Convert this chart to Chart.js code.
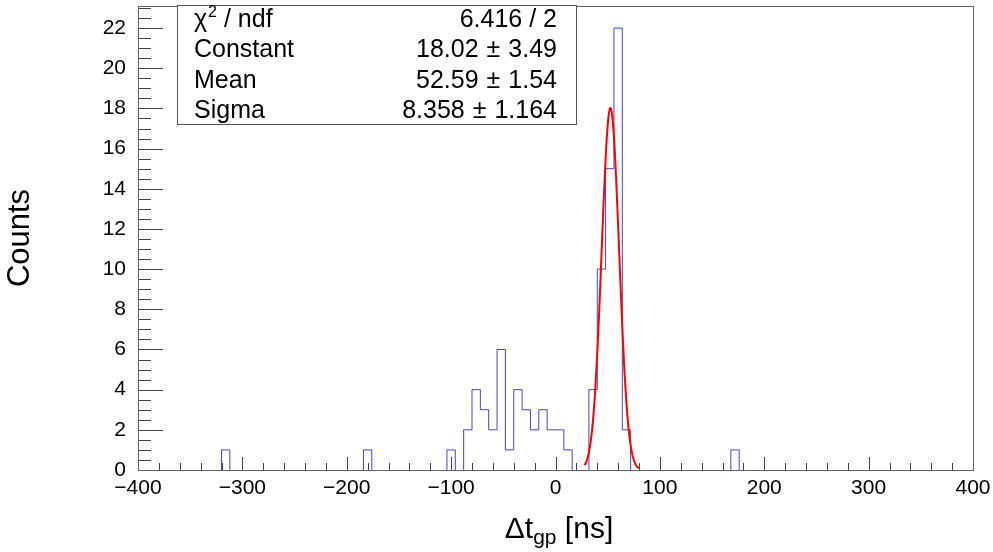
<!DOCTYPE html>
<html>
<head>
<meta charset="utf-8">
<script src="https://cdn.jsdelivr.net/npm/chart.js@4.4.1/dist/chart.umd.min.js"></script>
<style>
    html, body { margin: 0; padding: 0; background: #fff; }
</style>
</head>
<body>
<canvas id="histChart" width="993" height="552"></canvas>
<script>
// histogram: 8 ns bins between -400 and 400, only the filled bins are listed
const BIN_WIDTH = 8
const binLow = [-320, -184, -104, -88, -80, -72, -64, -56, -48, -40, -32, -24, -16, -8, 0, 8, 32, 40, 48, 56, 64, 168]
const binCount = [1, 1, 1, 2, 4, 3, 2, 6, 1, 4, 3, 2, 3, 2, 2, 1, 4, 10, 15, 22, 2, 1]

// red fit curve
const fitX = [28, 30, 32, 34, 36, 38, 40, 42, 44, 46, 48, 50, 52, 52.59, 54, 56, 58, 60, 62, 64, 66, 68, 70, 72, 74, 76, 78, 80]
const fitY = [0.24, 0.47, 0.87, 1.52, 2.51, 3.93, 5.80, 8.07, 10.63, 13.21, 15.50, 17.17, 17.98, 18.02, 17.77, 16.58, 14.62, 12.16, 9.56, 7.10, 4.97, 3.29, 2.06, 1.21, 0.68, 0.36, 0.18, 0.08]

// stats box
const statNames = ["χ", "Constant", "Mean", "Sigma"]
const statValues = ["6.416 / 2", "18.02", "52.59", "8.358"]
const statErrors = [null, "3.49", "1.54", "1.164"]

const FONT = '"Liberation Sans", Arial, Helvetica, sans-serif'

function histPoints() {
    let pts = []
    let i = 0
    while (i < binLow.length) {
        let j = i
        while (j + 1 < binLow.length && binLow[j + 1] === binLow[j] + BIN_WIDTH) j++
        pts.push({x: binLow[i], y: 0})
        for (let k = i; k <= j; k++) pts.push({x: binLow[k], y: binCount[k]})
        pts.push({x: binLow[j] + BIN_WIDTH, y: 0})
        pts.push({x: binLow[j] + BIN_WIDTH, y: null})
        i = j + 1
    }
    return pts
}

const rootFrame = {
    id: 'rootFrame',
    afterDatasetsDraw(chart) {
        const {ctx, chartArea: a, scales: {x, y}} = chart
        ctx.save()
        ctx.lineWidth = 1

        // ticks pointing into the frame
        ctx.strokeStyle = '#444'
        ctx.beginPath()
        for (let v = -400; v <= 400; v += 20) {
            const px = Math.round(x.getPixelForValue(v)) + 0.5
            const len = v % 100 === 0 ? 13 : 7
            ctx.moveTo(px, a.bottom)
            ctx.lineTo(px, a.bottom - len)
        }
        for (let v = 0; v <= 23; v += 0.5) {
            const py = Math.round(y.getPixelForValue(v)) + 0.5
            const len = v % 2 === 0 ? 25 : 13
            ctx.moveTo(a.left, py)
            ctx.lineTo(a.left + len, py)
        }
        ctx.stroke()

        ctx.strokeStyle = '#666'
        ctx.strokeRect(Math.round(a.left) + 0.5, Math.round(a.top) + 0.5,
            Math.round(a.right - a.left), Math.round(a.bottom - a.top))

        // stats box
        const bx = 177.5, by = 5.5, bw = 399, bh = 119
        ctx.fillStyle = '#fff'
        ctx.fillRect(bx, by, bw, bh)
        ctx.strokeStyle = '#555'
        ctx.strokeRect(bx, by, bw, bh)

        ctx.fillStyle = '#000'
        ctx.textBaseline = 'alphabetic'
        const big = '25px ' + FONT
        const small = '16px ' + FONT
        const right = 557
        const gap = 8
        statNames.forEach((name, i) => {
            const base = 27 + i * 30.4
            ctx.font = big
            ctx.textAlign = 'left'
            ctx.fillText(name, 194, base)
            if (i === 0) {
                let w = ctx.measureText(name).width
                ctx.font = small
                ctx.fillText('2', 194 + w + 1, base - 10)
                let w2 = ctx.measureText('2').width
                ctx.font = big
                ctx.fillText(' / ndf', 194 + w + 1 + w2, base)
            }
            ctx.font = big
            ctx.textAlign = 'right'
            if (statErrors[i] === null) {
                ctx.fillText(statValues[i], right, base)
            } else {
                ctx.fillText(statErrors[i], right, base)
                let xr = right - ctx.measureText(statErrors[i]).width - gap
                ctx.fillText('±', xr, base)
                xr -= ctx.measureText('±').width + gap
                ctx.fillText(statValues[i], xr, base)
            }
        })

        // x axis title with subscript
        const t1 = 'Δt', t2 = 'gp', t3 = ' [ns]'
        ctx.textAlign = 'left'
        ctx.font = '30px ' + FONT
        const w1 = ctx.measureText(t1).width, w3 = ctx.measureText(t3).width
        ctx.font = '21px ' + FONT
        const w2 = ctx.measureText(t2).width
        let tx = 559 - (w1 + w2 + w3) / 2
        const ty = 538
        ctx.font = '30px ' + FONT
        ctx.fillText(t1, tx, ty)
        ctx.font = '21px ' + FONT
        ctx.fillText(t2, tx + w1, ty + 6)
        ctx.font = '30px ' + FONT
        ctx.fillText(t3, tx + w1 + w2, ty)
        ctx.restore()
    }
}

const histChart = new Chart(document.getElementById("histChart"), {
    type: 'line',
    data: {
        datasets: [
            {
                label: 'fit',
                data: fitX.map((v, i) => ({x: v, y: fitY[i]})),
                borderColor: '#ff0000',
                borderWidth: 2,
                pointRadius: 0,
                cubicInterpolationMode: 'monotone',
                fill: false
            },
            {
                label: 'hist',
                data: histPoints(),
                borderColor: 'rgb(70, 70, 190)',
                borderWidth: 1,
                pointRadius: 0,
                stepped: 'before',
                spanGaps: false,
                fill: false
            }
        ]
    },
    options: {
        responsive: false,
        animation: false,
        layout: {
            padding: {top: 6, right: 20, left: 0, bottom: 0}
        },
        plugins: {
            legend: {display: false},
            tooltip: {enabled: false}
        },
        scales: {
            x: {
                type: 'linear',
                min: -400,
                max: 400,
                grid: {display: false, drawTicks: false},
                border: {display: false},
                ticks: {
                    stepSize: 100,
                    autoSkip: false,
                    maxRotation: 0,
                    padding: 6,
                    color: '#000',
                    font: {size: 21, family: FONT},
                    callback: v => String(v).replace('-', '−')
                },
                afterFit: s => {
                    s.height = 82
                    s.paddingLeft = 0
                    s.paddingRight = 0
                }
            },
            y: {
                type: 'linear',
                min: 0,
                max: 23.1,
                grid: {display: false, drawTicks: false},
                border: {display: false},
                ticks: {
                    stepSize: 2,
                    includeBounds: false,
                    padding: 12,
                    color: '#000',
                    font: {size: 21, family: FONT}
                },
                title: {
                    display: true,
                    text: 'Counts',
                    color: '#000',
                    font: {size: 31, family: FONT},
                    padding: {top: 2, bottom: 0}
                },
                afterFit: s => {
                    s.width = 138
                    s.paddingTop = 0
                    s.paddingBottom = 0
                }
            }
        }
    },
    plugins: [rootFrame]
});
</script>
</body>
</html>
